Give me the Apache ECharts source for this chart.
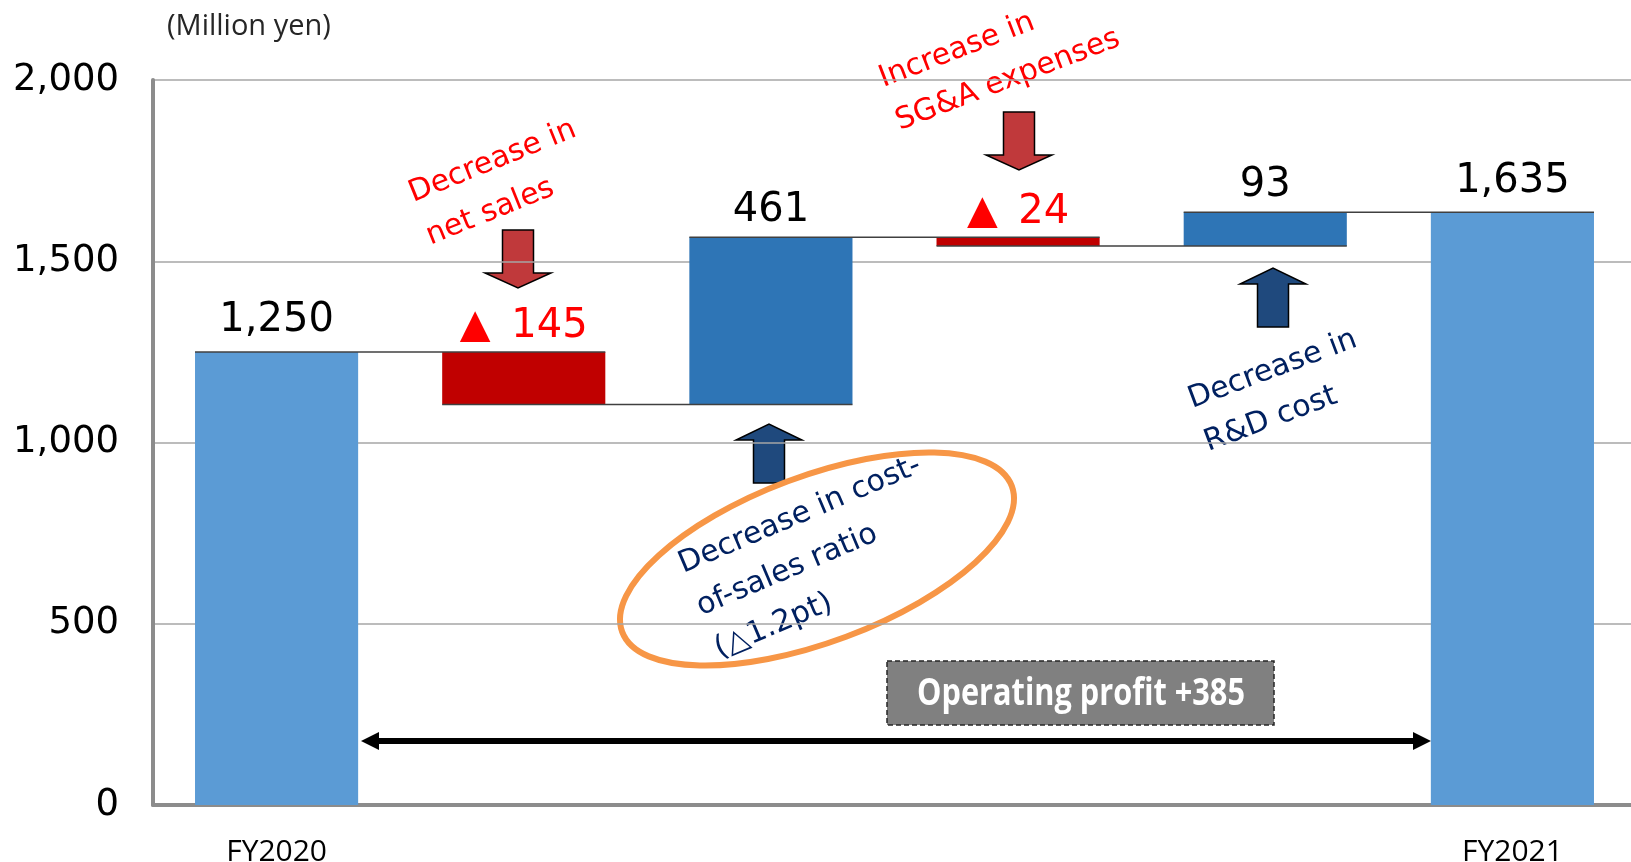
<!DOCTYPE html>
<html>
<head>
<meta charset="utf-8">
<script src="https://cdn.jsdelivr.net/npm/echarts@6/dist/echarts.min.js"></script>
<style>
  html, body { margin: 0; padding: 0; background: #fff; }
  #main { width: 1631px; height: 862px; }
</style>
</head>
<body>
<div id="main"></div>
<script>
// data (million yen)
var categories = ['FY2020', 'Net sales', 'Cost-of-sales ratio', 'SG&A expenses', 'R&D cost', 'FY2021']
var startValue = 1250
var endValue = 1635
var changes = [-145, 461, -24, 93]
var yTicks = [0, 500, 1000, 1500, 2000]

// waterfall pieces built from the values above
var baseData = [0]
var totalData = [startValue]
var upData = ['-']
var downData = ['-']
var levels = [[0, startValue]]
var running = startValue
changes.forEach(function (c, i) {
  var next = running + c
  baseData.push(Math.min(running, next))
  totalData.push('-')
  upData.push(c > 0 ? c : '-')
  downData.push(c < 0 ? -c : '-')
  levels.push([i + 1, next])
  running = next
})
baseData.push(0)
totalData.push(endValue)
upData.push('-')
downData.push('-')

var numFont = 'DejaVu Sans'
var red = '#FF0000'
var navy = '#002060'

function fmt (v) { return Number(v).toLocaleString('en-US') }

// rotated multi-line note, x/y = baseline start of the first line
function note (lines, x, y, deg, color) {
  var size = 30
  var lh = 46
  return {
    type: 'group',
    x: x,
    y: y,
    rotation: deg * Math.PI / 180,
    children: lines.map(function (t, i) {
      return {
        type: 'text',
        x: 0,
        y: i * lh - size * 0.33,
        style: { text: t, font: size + 'px "' + numFont + '"', fill: color, align: 'left', verticalAlign: 'middle' }
      }
    })
  }
}

// block arrow: tail end, neck (where the head starts) and tip y
function blockArrow (cx, tail, neck, tip, color) {
  var sh = 15.5
  var hh = 33
  return {
    type: 'polygon',
    shape: {
      points: [
        [cx - sh, tail], [cx + sh, tail], [cx + sh, neck], [cx + hh, neck],
        [cx, tip], [cx - hh, neck], [cx - sh, neck]
      ]
    },
    style: { fill: color, stroke: '#000', lineWidth: 1.5 }
  }
}

var chart = echarts.init(document.getElementById('main'))
var option = {
  animation: false,
  grid: { left: 153, top: 80, width: 1483, height: 725, outerBoundsMode: 'none' },
  xAxis: {
    type: 'category',
    data: categories,
    axisTick: { show: false },
    axisLine: { lineStyle: { color: '#8C8C8C', width: 4 } },
    axisLabel: {
      margin: 32,
      fontFamily: 'Open Sans',
      fontSize: 30,
      color: '#000',
      formatter: function (v) { return v.indexOf('FY') === 0 ? v : '' }
    }
  },
  yAxis: {
    type: 'value',
    min: yTicks[0],
    max: yTicks[yTicks.length - 1],
    interval: 500,
    axisLine: { show: true, lineStyle: { color: '#8C8C8C', width: 4 } },
    axisTick: { show: false },
    splitLine: { lineStyle: { color: '#A6A6A6', width: 1.5 } },
    axisLabel: { margin: 34, padding: [5, 0, 0, 0], fontFamily: numFont, fontSize: 37, color: '#000', formatter: fmt }
  },
  series: [
    {
      type: 'bar',
      stack: 'w',
      barWidth: '66%',
      silent: true,
      itemStyle: { color: 'transparent' },
      data: baseData
    },
    {
      type: 'bar',
      stack: 'w',
      itemStyle: { color: '#5B9BD5' },
      label: { show: true, position: 'top', distance: 11, fontFamily: numFont, fontSize: 40, color: '#000', formatter: function (p) { return fmt(p.value) } },
      data: totalData
    },
    {
      type: 'bar',
      stack: 'w',
      itemStyle: { color: '#2E75B6' },
      label: { show: true, position: 'top', distance: 7, fontFamily: numFont, fontSize: 40, color: '#000', formatter: function (p) { return fmt(p.value) } },
      data: upData
    },
    {
      type: 'bar',
      stack: 'w',
      itemStyle: { color: '#C00000' },
      label: { show: true, position: 'top', distance: 5, fontFamily: numFont, fontSize: 40, color: red, formatter: function (p) { return '▲ \u2009' + fmt(p.value) } },
      data: downData
    },
    {
      // connector lines between neighbouring bars
      type: 'custom',
      silent: true,
      z: 5,
      encode: { x: 0, y: 1 },
      data: levels,
      renderItem: function (params, api) {
        var i = api.value(0)
        var v = api.value(1)
        var a = api.coord([i, v])
        var b = api.coord([i + 1, v])
        var half = api.size([1, 0])[0] * 0.33
        return {
          type: 'line',
          shape: { x1: a[0] - half, y1: a[1], x2: b[0] + half, y2: b[1] },
          style: { stroke: '#404040', lineWidth: 1.5 }
        }
      }
    }
  ],
  graphic: [
    { type: 'text', x: 167, y: 27, style: { text: '(Million yen)', font: '29px "Open Sans"', fill: '#262626', verticalAlign: 'middle' } },
    note(['Decrease in', 'net sales'], 414, 204, 22, red),
    note(['Increase in', 'SG&A expenses'], 884, 89, 21, red),
    note(['Decrease in', 'R&D cost'], 1193, 410, 20.5, navy),
    note(['Decrease in cost-', 'of-sales ratio', '(△1.2pt)'], 684, 575, 23, navy),
    blockArrow(518, 230, 273, 288, '#C0393B'),
    blockArrow(1019, 112, 155, 170, '#C0393B'),
    blockArrow(769, 483, 440, 424, '#1F497D'),
    blockArrow(1273, 327, 284, 268, '#1F497D'),
    {
      type: 'ellipse',
      x: 817,
      y: 559,
      rotation: 20.5 * Math.PI / 180,
      shape: { cx: 0, cy: 0, rx: 208, ry: 83 },
      style: { fill: 'none', stroke: '#F79646', lineWidth: 6 }
    },
    // total change arrow and box
    { type: 'line', shape: { x1: 377, y1: 741, x2: 1415, y2: 741 }, style: { stroke: '#000', lineWidth: 6 } },
    { type: 'polygon', shape: { points: [[361, 741], [379, 732], [379, 750]] }, style: { fill: '#000' } },
    { type: 'polygon', shape: { points: [[1431, 741], [1413, 732], [1413, 750]] }, style: { fill: '#000' } },
    { type: 'rect', shape: { x: 887, y: 661, width: 387, height: 64 }, style: { fill: '#808080', stroke: '#262626', lineWidth: 1.5, lineDash: [5, 3] } },
    { type: 'text', x: 1081, y: 694, scaleX: 0.83, style: { text: 'Operating profit +385', font: 'bold 37px "Open Sans"', fill: '#fff', align: 'center', verticalAlign: 'middle' } }
  ]
}
chart.setOption(option)
</script>
</body>
</html>
